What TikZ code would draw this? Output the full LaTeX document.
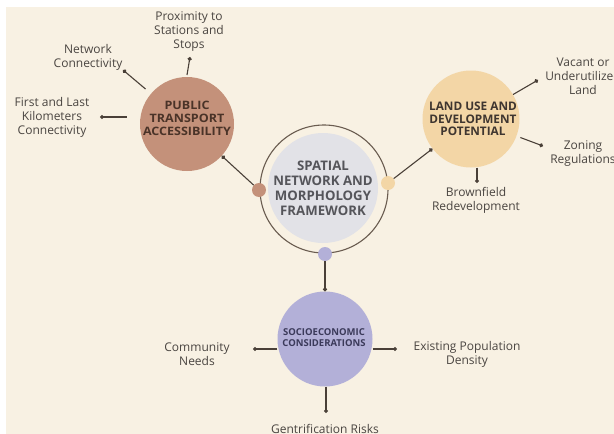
\documentclass[tikz,border=0pt]{standalone}
\usepackage{fontspec}
\setmainfont{Open Sans}
\newfontfamily\widehead[FakeStretch=1.08]{Open Sans}
\usetikzlibrary{arrows.meta}
\definecolor{bgcream}{HTML}{F8F1E3}
\definecolor{ptbrown}{HTML}{C4917A}
\definecolor{landsand}{HTML}{F3D6A6}
\definecolor{sociolilac}{HTML}{B3B0D8}
\definecolor{coregrey}{HTML}{E2E2E7}
\definecolor{ringline}{HTML}{6A5C50}
\definecolor{linkline}{HTML}{4A4038}
\definecolor{labeltext}{HTML}{4A4541}
\definecolor{pttext}{HTML}{4A3328}
\definecolor{landtext}{HTML}{3F3630}
\definecolor{sociotext}{HTML}{3B3A5A}
\definecolor{coretext}{HTML}{55555A}
\begin{document}
\begin{tikzpicture}[x=1pt,y=-1pt,
  hub/.style={circle,inner sep=0pt},
  hubtext/.style={align=center,inner sep=0pt},
  dot/.style={circle,inner sep=0pt,minimum size=14pt},
  label/.style={align=center,text=labeltext,font=\fontsize{12}{14}\selectfont},
  link/.style={draw=linkline,line width=1.1pt,-{Circle[length=4pt]}}]
  % canvas
  \useasboundingbox (0,0) rectangle (614,434);
  \fill[white] (0,0) rectangle (614,434);
  \fill[bgcream] (6,7) rectangle (614,434);

  % central framework
  \node[circle,fill=coregrey,minimum size=110pt,inner sep=0pt] (core) at (323,188) {};
  \node[circle,draw=ringline,line width=1.1pt,minimum size=128pt,inner sep=0pt] (ring) at (324,189) {};
  \node[hubtext,text=coretext,font=\fontsize{13.2}{15}\selectfont\bfseries] (coretxt) at (323,188)
    {SPATIAL\\NETWORK AND\\MORPHOLOGY\\FRAMEWORK};

  % anchor dots on the ring
  \node[dot,fill=ptbrown] (dpt) at (259,190) {};
  \node[dot,fill=landsand] (dland) at (388,183) {};
  \node[dot,fill=sociolilac] (dsocio) at (325,254) {};

  % outer hubs
  \node[hub,fill=ptbrown,minimum size=94pt] (pt) at (187,124) {};
  \node[hubtext,text=pttext,font=\widehead\fontsize{11.6}{13}\selectfont\bfseries] (pttxt) at (187,118)
    {PUBLIC\\TRANSPORT\\ACCESSIBILITY};
  \node[hub,fill=landsand,minimum size=97pt] (land) at (471,119) {};
  \node[hubtext,text=landtext,font=\fontsize{11.8}{12.5}\selectfont\bfseries] (landtxt) at (473,119)
    {LAND USE AND\\DEVELOPMENT\\POTENTIAL};
  \node[hub,fill=sociolilac,minimum size=95pt] (socio) at (325,339) {};
  \node[hubtext,text=sociotext,font=\fontsize{9.5}{11}\selectfont\bfseries] (sociotxt) at (324,338)
    {SOCIOECONOMIC\\CONSIDERATIONS};

  % leaf labels
  \node[label] (prox) at (189,32) {Proximity to\\Stations and\\Stops};
  \node[label] (netc) at (88,57) {Network\\Connectivity};
  \node[label] (flk) at (52,117) {First and Last\\Kilometers\\Connectivity};
  \node[label] (vac) at (583,76) {Vacant or\\Underutilized\\Land};
  \node[label] (zon) at (583,154) {Zoning\\Regulations};
  \node[label] (brown) at (476,200) {Brownfield\\Redevelopment};
  \node[label] (comm) at (197,354) {Community\\Needs};
  \node[label] (dens) at (467,354) {Existing Population\\Density};
  \node[label] (gent) at (325,429) {Gentrification Risks};

  % leaf end points
  \coordinate (eprox) at (190,57);
  \coordinate (enet) at (123,70);
  \coordinate (eflk) at (100,117);
  \coordinate (evac) at (538,80);
  \coordinate (ezon) at (543,146);
  \coordinate (ebrown) at (477,183);
  \coordinate (ecomm) at (253,349);
  \coordinate (edens) at (397,349);
  \coordinate (egent) at (326,413);

  % hub to hub links
  \draw[link] (dpt) -- (pt);
  \draw[link] (dland) -- (land);
  \draw[link] (dsocio) -- (socio);

  % hub to leaf links
  \draw[link] (pt.north |- 0,75) -- (eprox);
  \draw[link,shorten <=7pt] (pt) -- (enet);
  \draw[link,shorten <=13pt] (pt.west |- eflk) -- (eflk);
  \draw[link] (land) -- (evac);
  \draw[link,shorten <=4pt] (land) -- (ezon);
  \draw[link] (land.south -| ebrown) -- (ebrown);
  \draw[link] (socio.west |- ecomm) -- (ecomm);
  \draw[link] (socio.east |- edens) -- (edens);
  \draw[link] (socio.south -| egent) -- (egent);
\end{tikzpicture}
\end{document}
